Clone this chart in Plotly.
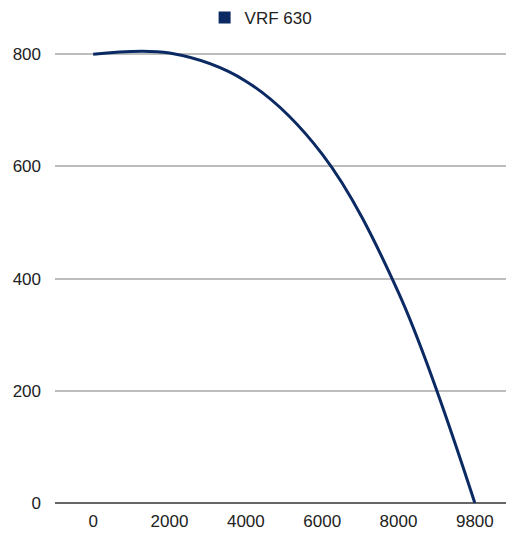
import plotly.graph_objects as go

categories = ["0", "2000", "4000", "6000", "8000", "9800"]
values = [800, 802, 752, 622, 375, 0]
series_name = "VRF 630"
y_ticks = [0, 200, 400, 600, 800]

Y_TOP = 820
px_per_unit = (503 - 54.5) / 800
plot_top = 503 - Y_TOP * px_per_unit

W, H = 513, 536
fig = go.Figure()
fig.add_trace(go.Scatter(
    x=categories, y=values, name=series_name, mode="lines",
    line=dict(color="#0b2a63", width=3, shape="spline", smoothing=1),
    showlegend=False, hoverinfo="skip",
))
fig.add_trace(go.Scatter(
    x=[None], y=[None], name=series_name, mode="markers",
    marker=dict(symbol="square", size=12, color="#0b2a63"),
))

fig.update_layout(
    width=W, height=H,
    margin=dict(l=55, r=0, t=plot_top, b=H - 503, autoexpand=False),
    paper_bgcolor="white", plot_bgcolor="white",
    font=dict(family="Liberation Sans, Arial, sans-serif", size=17, color="#222222"),
    showlegend=True,
    legend=dict(orientation="h", x=0.45, xanchor="center", y=1 - 18 / H,
                yanchor="middle", yref="container",
                font=dict(size=17, color="#222222")),
    xaxis=dict(type="category", range=[-0.5, 5.5], showgrid=False, automargin=False,
               showline=False, ticks="", ticklabelstandoff=6, tickfont=dict(size=17)),
    yaxis=dict(range=[0, Y_TOP], tickvals=y_ticks, showgrid=True, gridcolor="#bdbdbd",
               gridwidth=2, zeroline=True, zerolinecolor="#666666", zerolinewidth=2,
               automargin=False, ticks="", ticklabelstandoff=13, tickfont=dict(size=17)),
)
fig.write_html(
    "out.html",
    config={"displayModeBar": False},
    post_script="document.documentElement.style.overflow='hidden';"
                "document.body.style.margin='0';document.body.style.overflow='hidden';",
)
